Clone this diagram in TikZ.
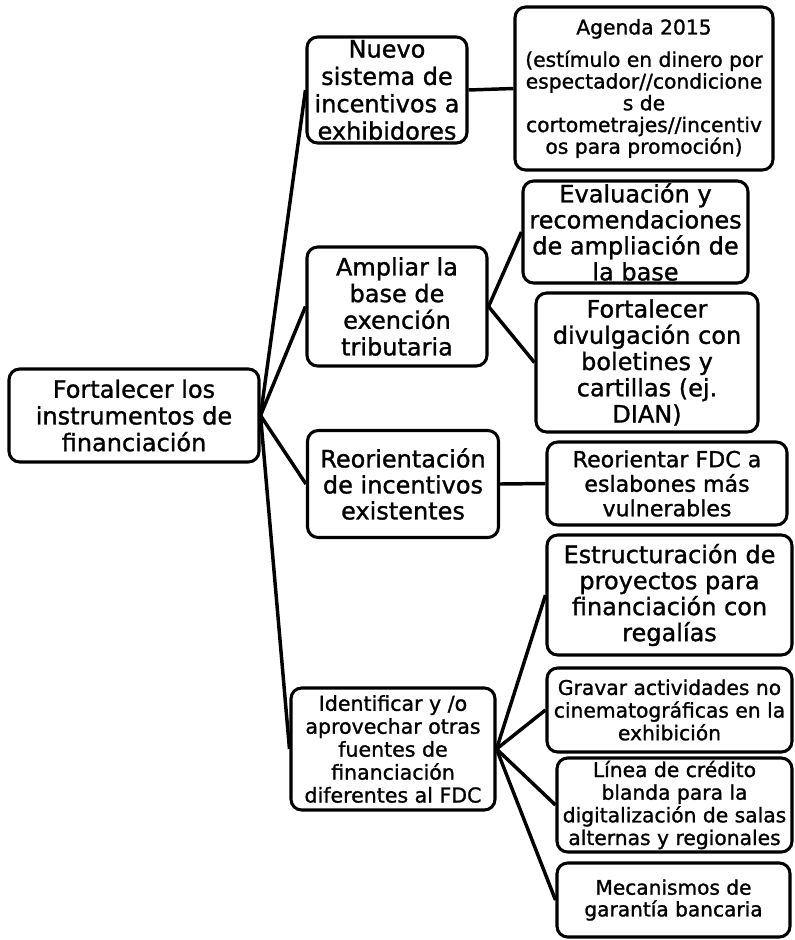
\documentclass[tikz,border=0pt]{standalone}
\usepackage{fontspec}
\setmainfont{DejaVu Sans}[RawFeature={embolden=1.2}]
\begin{document}
\begin{tikzpicture}[x=0.75pt,y=-0.75pt,
  box/.style={draw, line width=2.3pt, rounded corners=8pt, align=center, inner sep=0pt},
  L/.style={font=\fontsize{18}{20}\selectfont},
  S/.style={font=\fontsize{15.2}{17}\selectfont},
  link/.style={line width=2.6pt}]
\useasboundingbox (0,0) rectangle (794,940);
\node[box,L,minimum width=187.5pt,minimum height=69.75pt] (root) at (134,415.5) {Fortalecer los\\instrumentos de\\financiación};
\node[box,L,font=\fontsize{18}{20.5}\selectfont,minimum width=120pt,minimum height=79.5pt] (nuevo) at (387,90) {Nuevo\\sistema de\\incentivos a\\exhibidores};
\node[box,S,font=\fontsize{15.2}{16.3}\selectfont,minimum width=193.5pt,minimum height=122.25pt] (agenda) at (644,88.5) {Agenda 2015\\[8pt](estímulo en dinero por\\espectador//condicione\\s de\\cortometrajes//incentiv\\os para promoción)};
\node[box,L,minimum width=135pt,minimum height=89.25pt] (ampliar) at (397,306.5) {Ampliar la\\base de\\exención\\tributaria};
\node[box,L,font=\fontsize{18}{19.5}\selectfont,minimum width=168.75pt,minimum height=76.5pt] (eval) at (635.5,232) {Evaluación y\\recomendaciones\\de ampliación de\\la base};
\node[box,L,font=\fontsize{18}{19.7}\selectfont,minimum width=166.5pt,minimum height=104.25pt] (divul) at (647,362.5) {Fortalecer\\divulgación con\\boletines y\\cartillas (ej.\\DIAN)};
\node[box,L,font=\fontsize{18}{19.5}\selectfont,minimum width=143.25pt,minimum height=80.25pt] (reor) at (403,484) {Reorientación\\de incentivos\\existentes};
\node[box,font=\fontsize{16.6}{18.4}\selectfont,minimum width=180pt,minimum height=62.25pt] (reorfdc) at (667,483.5) {Reorientar FDC a\\eslabones más\\vulnerables};
\node[box,font=\fontsize{15.4}{17.2}\selectfont,minimum width=153pt,minimum height=91.5pt] (ident) at (393,749) {Identificar y /o\\aprovechar otras\\fuentes de\\financiación\\diferentes al FDC};
\node[box,L,font=\fontsize{18}{19.5}\selectfont,minimum width=183.75pt,minimum height=90pt] (estr) at (669.5,595) {Estructuración de\\proyectos para\\financiación con\\regalías};
\node[box,S,minimum width=183.75pt,minimum height=63pt] (gravar) at (669.5,710) {Gravar actividades no\\cinematográficas en la\\exhibición};
\node[box,S,minimum width=176.25pt,minimum height=70.5pt] (linea) at (674.5,805) {Línea de crédito\\blanda para la\\digitalización de salas\\alternas y regionales};
\node[box,font=\fontsize{15.1}{16.3}\selectfont,minimum width=174.75pt,minimum height=55.5pt] (mecan) at (673.5,900) {Mecanismos de\\garantía bancaria};
\draw[link] (root.east) -- (nuevo.west);
\draw[link] (root.east) -- (ampliar.west);
\draw[link] (root.east) -- (reor.west);
\draw[link] (root.east) -- (ident.west);
\draw[link] (nuevo.east) -- (agenda.west);
\draw[link] (ampliar.east) -- (eval.west);
\draw[link] (ampliar.east) -- (divul.west);
\draw[link] (reor.east) -- (reorfdc.west);
\draw[link] (ident.east) -- (estr.west);
\draw[link] (ident.east) -- (gravar.west);
\draw[link] (ident.east) -- (linea.west);
\draw[link] (ident.east) -- (mecan.west);
\end{tikzpicture}
\end{document}
